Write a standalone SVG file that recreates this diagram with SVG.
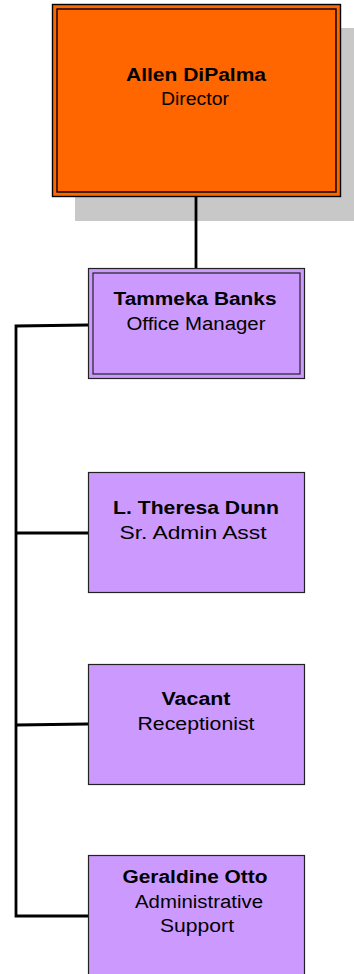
<svg xmlns="http://www.w3.org/2000/svg" width="354" height="974" viewBox="0 0 354 974">
<style>
.name{font-family:"Liberation Sans",Arial,sans-serif;font-weight:bold;font-size:18px;fill:#000;text-anchor:middle}
.title{font-family:"Liberation Sans",Arial,sans-serif;font-size:18px;fill:#000;text-anchor:middle}
.box{fill:#CC99FF;stroke:#222;stroke-width:1.2}
.line{fill:none;stroke:#000;stroke-width:2.8}
</style>
<rect x="75" y="28" width="285" height="193" fill="#C8C8C8"/>
<g id="connectors">
<line class="line" x1="196" y1="196" x2="196" y2="268"/>
<polyline class="line" points="88,325 16,326 16,916 88,916"/>
<line class="line" x1="16" y1="533" x2="88" y2="533"/>
<line class="line" x1="16" y1="725" x2="88" y2="724"/>
</g>
<g id="director">
<rect x="52.5" y="4.5" width="288" height="192" fill="#FF6600" stroke="#000" stroke-width="1.4"/>
<rect x="57" y="9" width="279" height="183" fill="none" stroke="#000" stroke-width="1.4"/>
<text class="name" x="196" y="81" textLength="140" lengthAdjust="spacingAndGlyphs">Allen DiPalma</text>
<text class="title" x="195" y="105" textLength="68" lengthAdjust="spacingAndGlyphs">Director</text>
</g>
<g id="office-manager">
<rect x="88.5" y="268.5" width="216" height="110" fill="#CC99FF" stroke="#222" stroke-width="1.2"/>
<rect x="93" y="273" width="207" height="101" fill="none" stroke="#222" stroke-width="1.2"/>
<text class="name" x="195" y="305" textLength="163" lengthAdjust="spacingAndGlyphs">Tammeka Banks</text>
<text class="title" x="196" y="330" textLength="139" lengthAdjust="spacingAndGlyphs">Office Manager</text>
</g>
<g id="sr-admin">
<rect class="box" x="88.5" y="472.5" width="216" height="120"/>
<text class="name" x="196" y="514" textLength="166" lengthAdjust="spacingAndGlyphs">L. Theresa Dunn</text>
<text class="title" x="193" y="539" textLength="147" lengthAdjust="spacingAndGlyphs">Sr. Admin Asst</text>
</g>
<g id="receptionist">
<rect class="box" x="88.5" y="664.5" width="216" height="120"/>
<text class="name" x="196" y="705" textLength="69" lengthAdjust="spacingAndGlyphs">Vacant</text>
<text class="title" x="196" y="730" textLength="117" lengthAdjust="spacingAndGlyphs">Receptionist</text>
</g>
<g id="admin-support">
<rect class="box" x="88.5" y="855.5" width="216" height="130"/>
<text class="name" x="195" y="883" textLength="145" lengthAdjust="spacingAndGlyphs">Geraldine Otto</text>
<text class="title" x="199" y="908" textLength="128" lengthAdjust="spacingAndGlyphs">Administrative</text>
<text class="title" x="197" y="932" textLength="74" lengthAdjust="spacingAndGlyphs">Support</text>
</g>
</svg>
